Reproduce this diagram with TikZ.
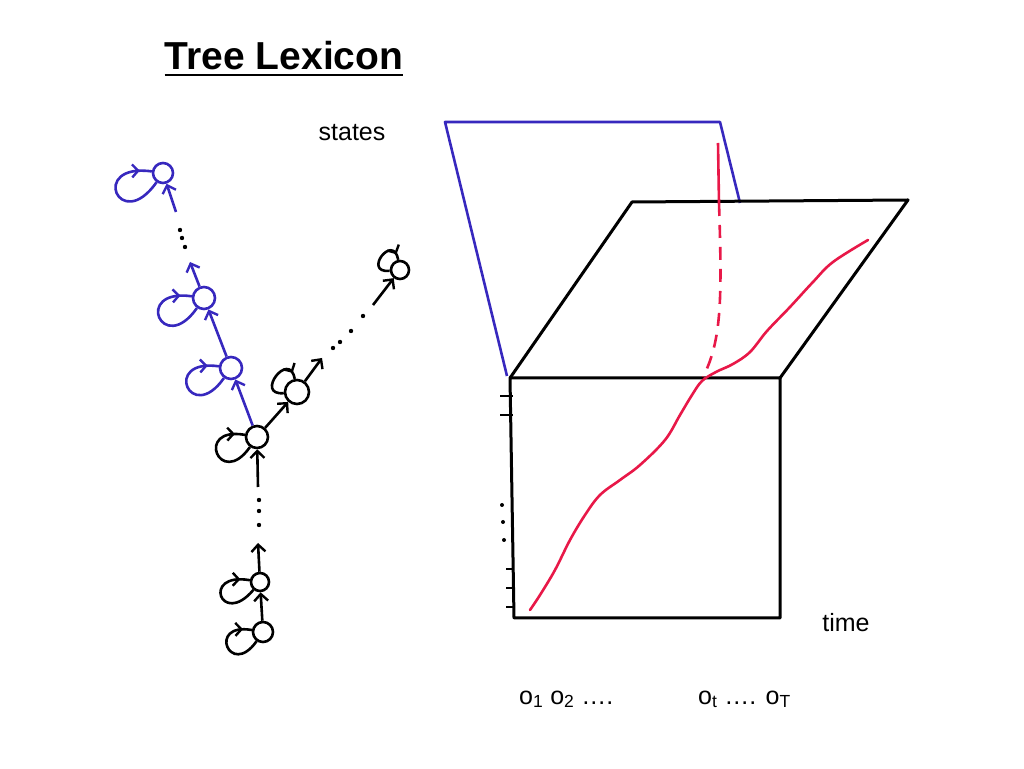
\documentclass[tikz,border=0pt]{standalone}
\usepackage{fontspec}
\setmainfont{Liberation Sans}
\usetikzlibrary{arrows.meta,decorations.markings}

\definecolor{penblue}{RGB}{55,40,190}
\definecolor{penred}{RGB}{232,24,72}

\tikzset{
  hmmstate/.style={circle,draw,fill=white,line width=2.6pt,inner sep=0pt,minimum size=20pt},
  trans/.style={line width=2.6pt,-{Straight Barb[length=7pt,width=14pt,line width=2.4pt]}},
  selfloop/.style={line width=2.6pt,postaction={decorate},
    decoration={markings,mark=at position 0.88 with {\arrow{Straight Barb[length=6pt,width=13pt,line width=2.4pt]}}}},
  txt/.style={font=\fontsize{25}{30}\selectfont,inner sep=0pt,anchor=base}
}

\begin{document}
\begin{tikzpicture}[x=1pt,y=1pt]
    \useasboundingbox (0,0) rectangle (1024,768);
    % heading
    \node[anchor=base,inner sep=0pt,font=\fontsize{39}{45}\selectfont\bfseries] (title) at (284,698) {Tree Lexicon};
    \draw[line width=1.3pt] ([yshift=-5pt]title.base west) -- ([yshift=-5pt]title.base east);

    % states plane (behind)
    \draw[penblue,line width=2.6pt,line join=round] (507,392) -- (445,646) -- (720,646) -- (740,565);

    % front face and lid
    \draw[line width=3pt,line join=round] (510,390) -- (780,390) -- (780,150) -- (514,150) -- cycle;
    \draw[line width=3pt,line join=round] (510,390) -- (632,566) -- (908,568) -- (780,390);

    % ticks on the state axis
    \foreach \y in {372,353} \draw[line width=2.8pt] (500,\y) -- (513,\y);
    \foreach \y in {199,180,161} \draw[line width=2.8pt] (506,\y) -- (514,\y);
    \foreach \y/\x in {263/502,246/503,228/504} \fill (\x,\y) circle (2);

    % best path
    \draw[penred,line width=2.6pt,line cap=round] plot[smooth,tension=0.6] coordinates {
        (530,158) (540,173) (555,198) (570,228) (585,253) (600,273) (620,288) (640,303)
        (665,328) (680,353) (692,373) (702,387) (716,396) (733,404) (750,416) (767,437)
        (790,461) (813,486) (833,506) (868,528)};
    \draw[penred,line width=2.6pt] (718,625) -- (719,565);
    \draw[penred,line width=2.6pt,dash pattern=on 13pt off 9pt] (719,565) .. controls (722,470) and (722,428) .. (703,391);

    % tree nodes
    \node[hmmstate] (A) at (263,136) {};
    \node[hmmstate,minimum size=18pt] (B) at (260,186) {};
    \node[hmmstate,minimum size=22pt] (C) at (257,331) {};
    \node[hmmstate,minimum size=24pt] (G) at (297,376) {};
    \node[hmmstate,minimum size=18pt] (H) at (400,498) {};
    \node[hmmstate,draw=penblue,minimum size=22pt] (D) at (231,400) {};
    \node[hmmstate,draw=penblue,minimum size=22pt] (E) at (204,470) {};
    \node[hmmstate,draw=penblue] (F) at (163,595) {};
    \coordinate (b1) at (258,225);
    \coordinate (c0) at (258,281);
    \coordinate (e1) at (190,506);
    \coordinate (f0) at (176,556);
    \coordinate (g1) at (322,410);
    \coordinate (h0) at (373,463);

    % self loops
    \draw[selfloop] (A) to[out=235,in=170,distance=46pt] (A);
    \draw[selfloop] (B) to[out=230,in=170,distance=50pt] (B);
    \draw[selfloop] (C) to[out=235,in=170,distance=52pt] (C);
    \draw[selfloop] (G) to[out=185,in=100,distance=30pt] (G);
    \draw[selfloop] (H) to[out=185,in=100,distance=28pt] (H);
    \draw[selfloop,penblue] (D) to[out=235,in=172,distance=58pt] (D);
    \draw[selfloop,penblue] (E) to[out=235,in=172,distance=60pt] (E);
    \draw[selfloop,penblue] (F) to[out=235,in=172,distance=64pt] (F);

    % transitions
    \draw[trans] (A) -- (B);
    \draw[trans] (B) -- (b1);
    \draw[trans] (c0) -- (C);
    \draw[trans] (C) -- (G);
    \draw[trans] (G) -- (g1);
    \draw[trans] (h0) -- (H);
    \draw[trans,penblue] (C) -- (D);
    \draw[trans,penblue] (D) -- (E);
    \draw[trans,penblue] (E) -- (e1);
    \draw[trans,penblue] (f0) -- (F);
    \foreach \x/\y in {259/268,259/257,259/243, 180/538,182/530,185/521,
                       333/420,340/426,351/437,363/452} \fill (\x,\y) circle (2.2);

    % labels
    \node[txt] (states) at (352,627) {states};
    \node[txt] (time) at (846,137) {time};
    \node[txt,anchor=base west] (obs1) at (519,64) {o\textsubscript{1} o\textsubscript{2} ….};
    \node[txt,anchor=base west] (obs2) at (698,64) {o\textsubscript{t} …. o\textsubscript{T}};
\end{tikzpicture}
\end{document}
